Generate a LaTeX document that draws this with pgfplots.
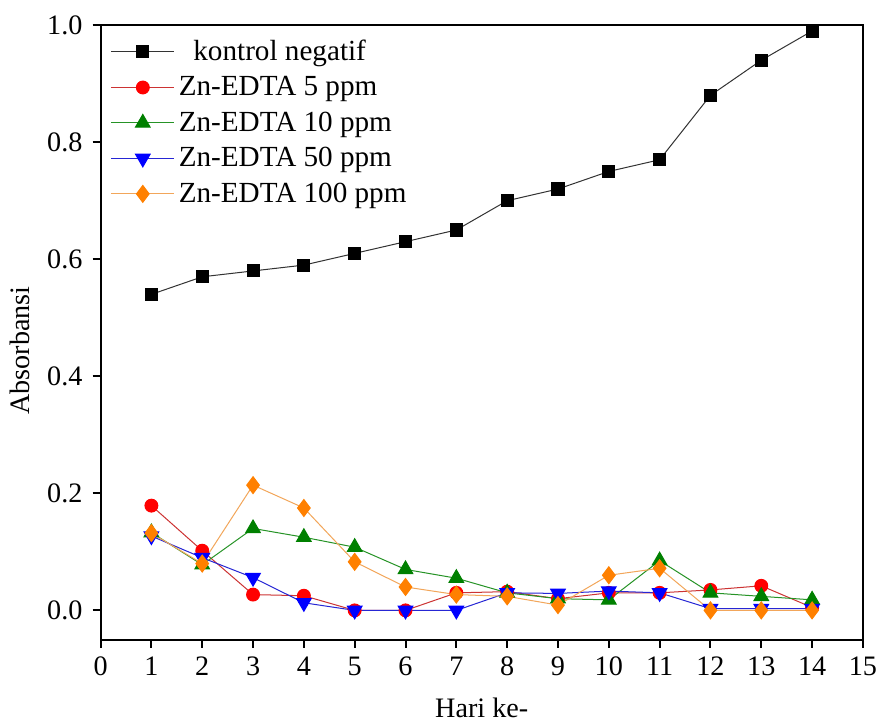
\documentclass[border=0pt]{standalone}
\usepackage{fontspec}
\setmainfont{Liberation Serif}
\usepackage{pgfplots}
\pgfplotsset{compat=1.18}
\definecolor{myorange}{RGB}{255,128,0}
\definecolor{mygreen}{RGB}{0,128,0}
\begin{document}
\begin{tikzpicture}
\begin{axis}[
  scale only axis,
  width=379pt, height=305.5pt,
  xmin=0, xmax=15, ymin=-0.05, ymax=1.0,
  xtick={0,1,...,15},
  ytick={0,0.2,0.4,0.6,0.8,1.0},
  yticklabel style={xshift=-1.5pt, /pgf/number format/.cd,fixed,fixed zerofill,precision=1},
  /pgf/number format/assume math mode=true,
  tick align=outside, tick pos=left,
  major tick length=4pt,
  axis line style={line width=1pt},
  every tick/.style={line width=1pt, black},
  ticklabel style={font=\fontsize{14}{16}\selectfont},
  xticklabel style={yshift=-1pt},
  xlabel={Hari ke-}, ylabel={Absorbansi},
  label style={font=\fontsize{14}{16}\selectfont},
  xlabel style={yshift=-4pt},
  ylabel style={yshift=2pt, xshift=-9pt},
  legend style={at={(0.005,0.99)}, anchor=north west, draw=none, fill=none,
    font=\fontsize{14.5}{16}\selectfont, row sep=2.5pt, cells={anchor=west}},
  legend image code/.code={\draw[mark repeat=2,mark phase=2] plot coordinates {(0cm,0cm) (0.55cm,0cm) (1.1cm,0cm)};},
  every axis plot/.append style={line width=0.5pt},
]
\addplot[black!80, mark=square*, mark size=3pt, mark options={black}] coordinates {
(1,0.54) (2,0.57) (3,0.58) (4,0.59) (5,0.61) (6,0.63) (7,0.65) (8,0.70) (9,0.72) (10,0.75) (11,0.77) (12,0.88) (13,0.94) (14,0.99)};
\addlegendentry{\ \ kontrol negatif}
\addplot[red!75!black!80, mark=*, mark size=3.2pt, mark options={red}] coordinates {
(1,0.179) (2,0.102) (3,0.027) (4,0.025) (5,0.0) (6,0.0) (7,0.03) (8,0.032) (9,0.02) (10,0.03) (11,0.03) (12,0.035) (13,0.042) (14,0.005)};
\addlegendentry{Zn-EDTA 5 ppm}
\addplot[mygreen!85, mark=triangle*, mark size=4.2pt, mark options={mygreen}] coordinates {
(1,0.133) (2,0.078) (3,0.14) (4,0.125) (5,0.108) (6,0.07) (7,0.055) (8,0.03) (9,0.02) (10,0.018) (11,0.085) (12,0.03) (13,0.024) (14,0.018)};
\addlegendentry{Zn-EDTA 10 ppm}
\addplot[blue!80!black!85, mark=triangle*, mark size=4.2pt, mark options={blue, rotate=180}] coordinates {
(1,0.127) (2,0.09) (3,0.056) (4,0.013) (5,0.0) (6,0.0) (7,0.0) (8,0.03) (9,0.029) (10,0.033) (11,0.03) (12,0.003) (13,0.003) (14,0.003)};
\addlegendentry{Zn-EDTA 50 ppm}
\addplot[myorange!70!brown!70, mark=diamond*, mark size=4.2pt, mark options={myorange}] coordinates {
(1,0.132) (2,0.08) (3,0.214) (4,0.175) (5,0.083) (6,0.04) (7,0.027) (8,0.024) (9,0.009) (10,0.06) (11,0.072) (12,0.0) (13,0.0) (14,0.0)};
\addlegendentry{Zn-EDTA 100 ppm}
\end{axis}
\pgfresetboundingbox
\useasboundingbox ([xshift=-50pt,yshift=-43.5pt]current axis.south west) rectangle ([xshift=6.5pt,yshift=12.5pt]current axis.north east);
\end{tikzpicture}
\end{document}
